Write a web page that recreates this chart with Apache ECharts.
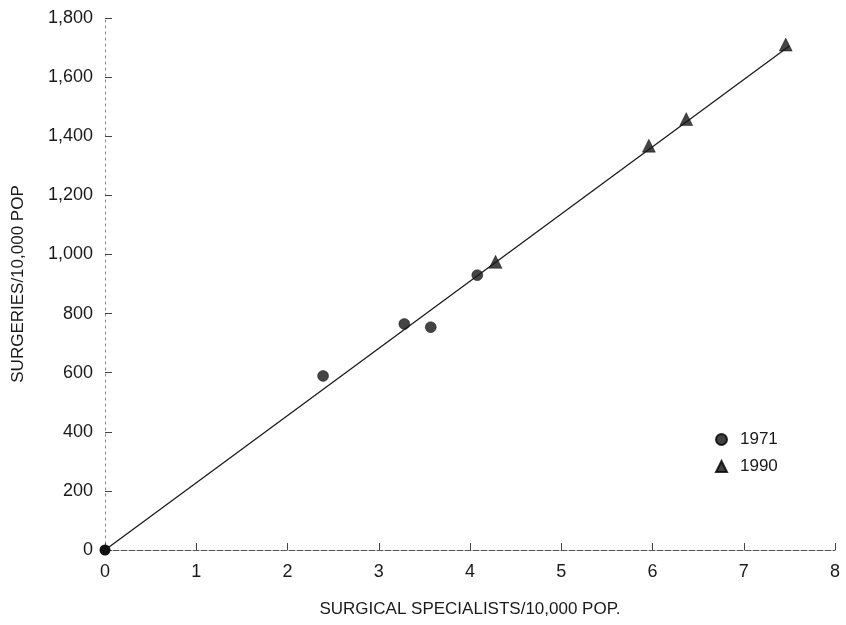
<!DOCTYPE html>
<html>
<head>
<meta charset="utf-8">
<script src="https://cdn.jsdelivr.net/npm/echarts@6/dist/echarts.min.js"></script>
<style>
  html, body { margin: 0; padding: 0; background: #fff; }
  #chart { width: 846px; height: 625px; }
</style>
</head>
<body>
<div id="chart"></div>
<script>
// specialists per 10,000 pop vs surgeries per 10,000 pop
var pts1971 = [[2.39, 589], [3.28, 765], [3.57, 754], [4.08, 930]];
var pts1990 = [[4.28, 975], [5.96, 1368], [6.37, 1458], [7.46, 1710]];
var fitLine = [[0, 0], [7.5, 1705]];
var yTicks = [0, 200, 400, 600, 800, 1000, 1200, 1400, 1600, 1800];

var chart = echarts.init(document.getElementById('chart'));
var ink = '#1a1a1a';
var font = 'Liberation Sans';

var option = {
    backgroundColor: '#fff',
    animation: false,
    textStyle: { fontFamily: font },
    grid: {
        left: 105,
        right: 11,
        top: 18,
        bottom: 75,
        outerBoundsMode: 'none'
    },
    legend: {
        orient: 'vertical',
        left: 710,
        top: 426,
        itemWidth: 11,
        itemHeight: 11,
        itemGap: 10,
        textStyle: { fontSize: 17, color: ink, fontFamily: font, padding: [0, 0, 0, 8] },
        data: [
            { name: '1971', icon: 'circle', itemStyle: { color: '#111' } },
            { name: '1990', icon: 'triangle', itemStyle: { color: '#111' } }
        ]
    },
    xAxis: {
        type: 'value',
        min: 0,
        max: 8,
        interval: 1,
        name: 'SURGICAL SPECIALISTS/10,000 POP.',
        nameLocation: 'middle',
        nameGap: 51,
        nameTextStyle: { fontSize: 17, color: ink, fontFamily: font },
        splitLine: { show: false },
        axisLine: { show: true, lineStyle: { color: '#555', width: 1, type: [6, 2] } },
        axisTick: { show: true, inside: true, length: 7, lineStyle: { color: '#444' } },
        axisLabel: { fontSize: 18, color: ink, margin: 13 }
    },
    yAxis: {
        type: 'value',
        min: 0,
        max: 1800,
        interval: 200,
        name: 'SURGERIES/10,000 POP',
        nameLocation: 'middle',
        nameGap: 78,
        nameTextStyle: { fontSize: 17, color: ink, fontFamily: font },
        splitLine: { show: false },
        axisLine: { show: true, lineStyle: { color: '#888', width: 1, type: [2, 4] } },
        axisTick: { show: true, inside: true, length: 7, lineStyle: { color: '#444' } },
        axisLabel: {
            fontSize: 18,
            color: ink,
            margin: 12,
            formatter: function (v) {
                return yTicks.indexOf(v) >= 0 ? v.toLocaleString('en-US') : '';
            }
        }
    },
    series: [
        {
            name: 'fit',
            type: 'line',
            data: fitLine.map(function (p, i) {
                return { value: p, symbol: i === 0 ? 'circle' : 'none' };
            }),
            symbolSize: 11,
            showSymbol: true,
            itemStyle: { color: '#111' },
            lineStyle: { color: ink, width: 1.3 },
            z: 1
        },
        {
            name: '1971',
            type: 'scatter',
            data: pts1971,
            symbol: 'circle',
            symbolSize: 11,
            itemStyle: { color: '#151515', borderColor: '#000', borderWidth: 0.5 },
            z: 3
        },
        {
            name: '1990',
            type: 'scatter',
            data: pts1990,
            symbol: 'triangle',
            symbolSize: 13,
            itemStyle: { color: '#151515', borderColor: '#000', borderWidth: 0.5 },
            z: 3
        }
    ]
};

chart.setOption(option);
window.addEventListener('resize', function () {
    chart.resize();
});
</script>
</body>
</html>
